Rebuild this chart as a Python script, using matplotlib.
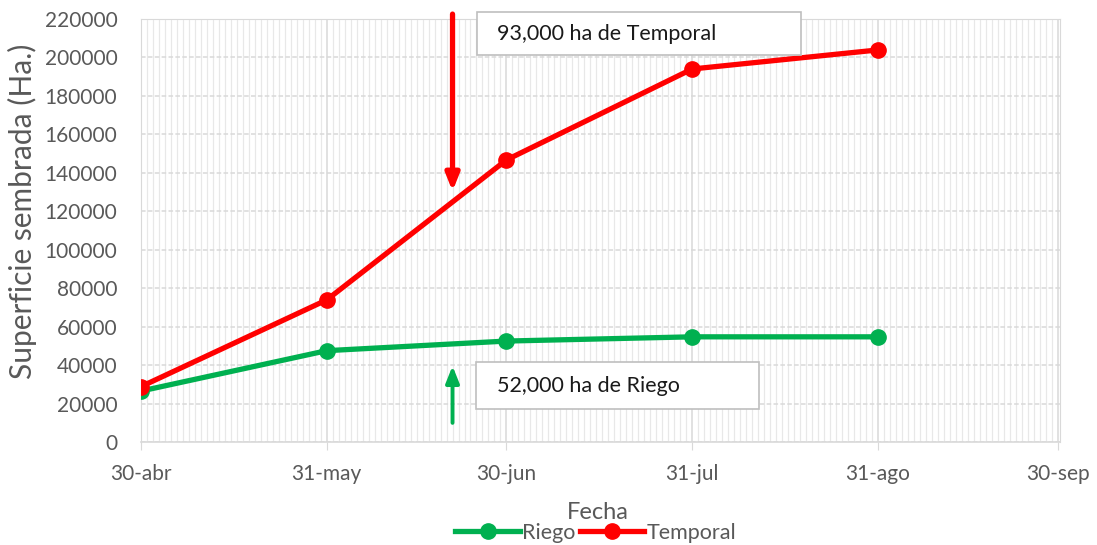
import pandas as pd
import numpy as np
import matplotlib
matplotlib.use("Agg")
import matplotlib.pyplot as plt
import matplotlib.dates as mdates
from matplotlib.patches import Rectangle

# datos
fechas = ["2023-04-30", "2023-05-31", "2023-06-30", "2023-07-31", "2023-08-31"]
riego = [26500, 47500, 52500, 54700, 54700]
temporal = [28800, 73900, 146700, 194000, 203900]
etiquetas_x = ["30-abr", "31-may", "30-jun", "31-jul", "31-ago", "30-sep"]
fechas_ticks = ["2023-04-30", "2023-05-31", "2023-06-30", "2023-07-31", "2023-08-31", "2023-09-30"]

plt.rcParams['font.family'] = ['Lato', 'DejaVu Sans']

x = pd.to_datetime(fechas)
xt = pd.to_datetime(fechas_ticks)

fig = plt.figure(figsize=(10.97, 5.45), dpi=100)
ax = fig.add_axes([141/1097, 1 - 442/545, (1060 - 141)/1097, (442 - 19)/545])

gris_txt = '#595959'

# rejilla
ax.set_xlim(xt[0], xt[-1] + pd.Timedelta(days=0.4))
ax.set_ylim(0, 220000)
ax.xaxis.set_minor_locator(mdates.DayLocator())
ax.set_xticks(xt)
ax.set_xticklabels(etiquetas_x)
ax.set_yticks(np.arange(0, 220001, 20000))
ax.grid(which='minor', axis='x', color='#E8E8E8', linewidth=0.9)
ax.grid(which='major', axis='x', color='#D9D9D9', linewidth=1.1)
ax.grid(which='major', axis='y', color='#D9D9D9', linewidth=1.1, linestyle=(0, (3, 1.5)))
ax.set_axisbelow(True)

for s in ['top', 'right', 'left', 'bottom']:
    ax.spines[s].set_color('#D9D9D9')
ax.spines['bottom'].set_linewidth(1.2)
ax.tick_params(axis='x', which='major', length=6, color='#D9D9D9', labelsize=15, labelcolor=gris_txt, pad=10)
ax.tick_params(axis='x', which='minor', length=0)
ax.tick_params(axis='y', length=0, labelsize=15, labelcolor=gris_txt, pad=17)

# series
ax.plot(x, riego, color='#00B050', linewidth=3.8, marker='o', markersize=11, label='Riego', zorder=3)
ax.plot(x, temporal, color='#FF0000', linewidth=3.8, marker='o', markersize=11, label='Temporal', zorder=3)

ax.set_xlabel('Fecha', fontsize=17, color=gris_txt)
ax.set_ylabel('Superficie sembrada (Ha.)', fontsize=21.5, color=gris_txt)
ax.xaxis.set_label_coords(0.497, -0.143)
ax.yaxis.set_label_coords(-0.113, 0.546)

leg = fig.legend(loc='center', bbox_to_anchor=(0.543, 1 - 533/545), ncol=2, frameon=False,
                 fontsize=15.5, handlelength=3.0, columnspacing=0.2, handletextpad=0.1)
for t in leg.get_texts():
    t.set_color(gris_txt)

# flechas
dia_flecha = pd.Timestamp("2023-06-21")
ax.annotate('', xy=(dia_flecha, 129000), xytext=(dia_flecha, 224000),
            arrowprops=dict(arrowstyle='-|>,head_width=0.4,head_length=1.0', color='#FF0000', lw=3.8),
            annotation_clip=False)
ax.annotate('', xy=(dia_flecha, 41000), xytext=(dia_flecha, 8500),
            arrowprops=dict(arrowstyle='-|>,head_width=0.4,head_length=1.0', color='#00B050', lw=2.8),
            annotation_clip=False)

# cuadros de texto
def cuadro(x0, y0, x1, y1, texto):
    fig.add_artist(Rectangle((x0/1097, 1 - y1/545), (x1 - x0)/1097, (y1 - y0)/545,
                             transform=fig.transFigure, facecolor='white', edgecolor='#BFBFBF', lw=1.2, zorder=5))
    fig.text(497/1097, 1 - (y0 + y1)/2/545, texto, fontsize=15.5, color='#1a1a1a', va='center', ha='left', zorder=6)

cuadro(477, 12, 801, 55, '93,000 ha de Temporal')
cuadro(476, 362, 759, 409, '52,000 ha de Riego')

fig.savefig('out.png', dpi=100)
